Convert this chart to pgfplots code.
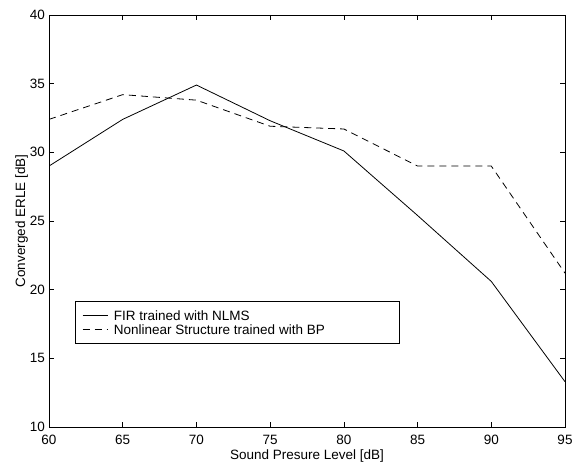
\documentclass[border=0pt]{standalone}
\usepackage{fontspec}
\setmainfont{Liberation Sans}
\usepackage{pgfplots}
\pgfplotsset{compat=1.18}
\newcommand{\lab}{\fontsize{13.5bp}{16bp}\selectfont}

\begin{document}
\begin{tikzpicture}
  \path[use as bounding box] (0,0) rectangle (582bp,466bp);
  \begin{axis}[
      at={(49bp,39bp)}, anchor=south west,
      scale only axis,
      width=516bp, height=412bp,
      xmin=60, xmax=95, ymin=10, ymax=40,
      xtick={60,65,...,95}, ytick={10,15,...,40},
      tick align=inside,
      major tick length=5bp,
      tick style={black, line width=0.6bp},
      axis line style={line width=0.8bp},
      /pgf/number format/assume math mode=true,
      ticklabel style={font=\lab},
      yticklabel style={anchor=east, inner sep=0pt, xshift=-4bp},
      xticklabel style={anchor=north, inner sep=0pt, yshift=-8bp},
      xlabel={Sound Presure Level [dB]},
      ylabel={Converged ERLE [dB]},
      x label style={font=\lab, at={(axis description cs:0.5,-0.0801)}, anchor=base},
      y label style={font=\lab, at={(axis description cs:-0.0465,0.5)}, rotate=0, anchor=base},
      legend cell align=left,
      legend image code/.code={\draw[#1] (0bp,0bp) -- (25bp,0bp);},
      legend style={
        at={(axis description cs:0.0504,0.306)}, anchor=north west,
        draw=black, line width=0.9bp,
        inner xsep=6.7bp, inner ysep=8.9bp,
        column sep=6bp, row sep=3.7bp,
        font=\lab,
        nodes={inner sep=0pt, text height=9.8bp, text depth=0.5bp},
      },
    ]
    % FIR trained with NLMS
    \addplot[black, line width=0.8bp]
      coordinates {(60,29.0)(65,32.4)(70,34.9)(75,32.3)(80,30.1)(85,25.4)(90,20.6)(95,13.3)};
    \addlegendentry{\makebox[279bp][l]{FIR trained with NLMS}}
    % Nonlinear structure trained with BP
    \addplot[black, line width=0.8bp, dash pattern=on 7bp off 5bp]
      coordinates {(60,32.4)(65,34.2)(70,33.8)(75,31.9)(80,31.7)(85,29.0)(90,29.0)(95,21.2)};
    \addlegendentry{\makebox[279bp][l]{Nonlinear Structure trained with BP}}
  \end{axis}
\end{tikzpicture}
\end{document}
